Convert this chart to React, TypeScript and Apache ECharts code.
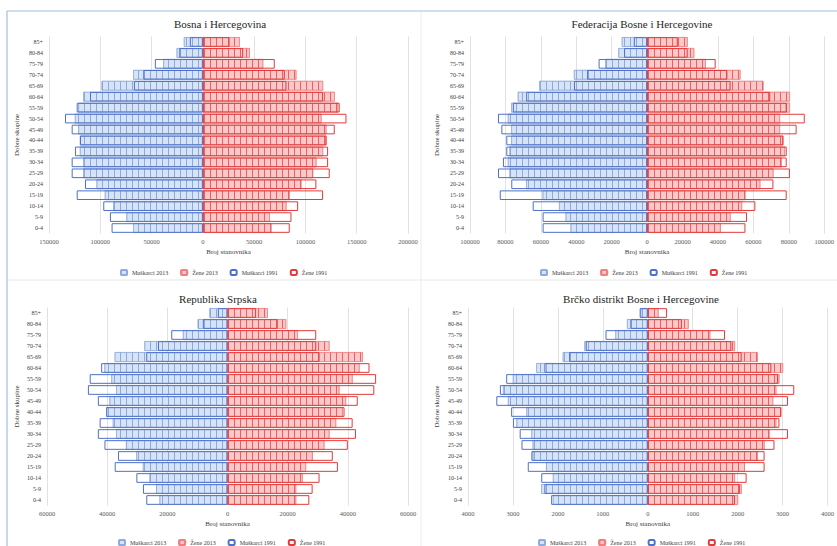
import React, { useEffect, useRef } from 'react';
import * as echarts from 'echarts';

const ageGroups = ['0-4', '5-9', '10-14', '15-19', '20-24', '25-29', '30-34', '35-39', '40-44', '45-49', '50-54', '55-59', '60-64', '65-69', '70-74', '75-79', '80-84', '85+'];
const seriesNames = ['Muškarci 2013', 'Žene 2013', 'Muškarci 1991', 'Žene 1991'];
const panelTitles = ['Bosna i Hercegovina', 'Federacija Bosne i Hercegovine', 'Republika Srpska', 'Brčko distrikt Bosne i Hercegovine'];
const xAxisName = 'Broj stanovnika';
const yAxisName = 'Dobne skupine';

// Bosna i Hercegovina
const bihMale2013 = [67900, 74400, 87300, 95500, 103600, 116600, 116600, 119800, 119800, 121400, 124700, 121400, 116600, 98700, 67900, 38600, 25600, 18500];
const bihFemale2013 = [66900, 65300, 81500, 84700, 96100, 107500, 110700, 117200, 120500, 120500, 115600, 131800, 128600, 117200, 91200, 58800, 45800, 36000];
const bihMale1991 = [89000, 90600, 97100, 123000, 114900, 127900, 127900, 124700, 119800, 127900, 134400, 123000, 110000, 67200, 58100, 46800, 23000, 12700];
const bihFemale1991 = [84700, 86400, 92900, 117200, 110700, 123700, 122100, 122100, 120500, 128600, 140000, 133400, 117200, 81500, 79900, 70100, 39300, 26000];

// Federacija BiH
const fbihMale2013 = [43200, 46000, 49700, 59000, 68300, 77700, 78600, 77700, 76700, 76700, 78600, 76700, 73000, 60900, 41300, 23600, 16200, 14300];
const fbihFemale2013 = [41500, 47100, 53600, 55500, 63900, 71300, 76000, 77800, 76900, 75000, 75000, 80600, 80600, 65700, 52700, 33100, 26600, 22900];
const fbihMale1991 = [59000, 59000, 64600, 83200, 76700, 84200, 81400, 79500, 79500, 82300, 84200, 75800, 68300, 41300, 33900, 27400, 13000, 7500];
const fbihFemale1991 = [55500, 56400, 61100, 78800, 71300, 80600, 78800, 78800, 76900, 84400, 89000, 78800, 69500, 47100, 45300, 38700, 22900, 17300];

// Republika Srpska
const rsMale2013 = [22600, 23700, 25900, 28100, 30300, 33700, 37000, 38100, 40300, 39200, 37000, 38600, 40900, 37500, 27600, 14800, 9900, 6000];
const rsFemale2013 = [22800, 22800, 25000, 26100, 28300, 32200, 33900, 36100, 38300, 39400, 37200, 41600, 43900, 45000, 33900, 23400, 19500, 13400];
const rsMale1991 = [27000, 28100, 30300, 37500, 36400, 40900, 43100, 42500, 40300, 43100, 46400, 45800, 42000, 27000, 23100, 18700, 8200, 3200];
const rsFemale1991 = [27200, 28300, 30600, 36700, 35000, 40000, 42700, 41600, 38900, 43300, 48800, 49400, 47200, 30600, 29500, 29500, 16700, 9500];

// Brčko distrikt
const bdMale2013 = [2110, 2370, 2110, 2260, 2560, 2560, 2590, 2920, 2700, 3110, 3220, 3000, 2480, 1890, 1410, 720, 460, 160];
const bdFemale2013 = [2010, 2090, 1940, 2160, 2450, 2600, 2710, 2860, 2970, 2790, 2860, 2930, 3010, 2450, 1940, 1390, 910, 240];
const bdMale1991 = [2150, 2300, 2370, 2670, 2590, 2810, 2850, 3000, 3040, 3370, 3290, 3150, 2300, 1750, 1380, 940, 380, 180];
const bdFemale1991 = [1940, 2050, 2200, 2600, 2600, 2820, 3120, 2930, 2970, 3120, 3260, 2900, 2750, 2090, 1860, 1720, 760, 430];

const xMins = [-150000, -100000, -60000, -4000];
const xMaxs = [200000, 100000, 60000, 4000];
const xIntervals = [50000, 20000, 20000, 1000];

const panelData = [
  [bihMale2013, bihFemale2013, bihMale1991, bihFemale1991],
  [fbihMale2013, fbihFemale2013, fbihMale1991, fbihFemale1991],
  [rsMale2013, rsFemale2013, rsMale1991, rsFemale1991],
  [bdMale2013, bdFemale2013, bdMale1991, bdFemale1991],
];

const FONT = '"Liberation Serif", "Times New Roman", serif';

const layout = [
  { gl: 49, gw: 359, gt: 36.5, gh: 197, cx: 215, titleTop: 13, legTop: 264, legLeft: 115, nameGap: 29 },
  { gl: 470, gw: 358, gt: 36.5, gh: 197, cx: 637, titleTop: 13, legTop: 264, legLeft: 535, nameGap: 30 },
  { gl: 47, gw: 361, gt: 307.5, gh: 198, cx: 213, titleTop: 288, legTop: 534, legLeft: 113, nameGap: 27 },
  { gl: 468, gw: 362, gt: 307.5, gh: 198, cx: 636, titleTop: 288, legTop: 534, legLeft: 533, nameGap: 28 },
];

export default function App() {
  const ref = useRef<HTMLDivElement>(null);
  useEffect(() => {
    if (!ref.current) return;
    const chart = echarts.init(ref.current, undefined, { renderer: 'svg' });
    const blueDecal = { symbol: 'rect', symbolSize: 1, color: 'rgba(80,120,205,0.55)', dashArrayX: [1, 5], dashArrayY: [5, 0], rotation: 0 };
    const redDecal = { symbol: 'rect', symbolSize: 1, color: 'rgba(235,60,60,0.75)', dashArrayX: [1, 5], dashArrayY: [5, 0], rotation: 0 };

    const series: any[] = [];
    panelData.forEach((d, p) => {
      const styles = [
        { color: '#d6e4f7', borderColor: '#8eaade', borderWidth: 0.6, decal: blueDecal },
        { color: '#fbc9c9', borderColor: '#f07f7f', borderWidth: 0.6, decal: redDecal },
        { color: 'rgba(255,255,255,0)', borderColor: '#4d70c8', borderWidth: 1 },
        { color: 'rgba(255,255,255,0)', borderColor: '#e23a3a', borderWidth: 1 },
      ];
      d.forEach((arr, s) => {
        series.push({
          type: 'bar',
          name: seriesNames[s],
          xAxisIndex: p,
          yAxisIndex: p,
          data: s % 2 === 0 ? arr.map((v) => -v) : arr.slice(),
          barGap: '-100%',
          barCategoryGap: '12%',
          itemStyle: styles[s],
          emphasis: { disabled: true },
          z: s < 2 ? 2 : 3,
        });
      });
    });

    const option: any = {
      animation: false,
      backgroundColor: '#ffffff',
      title: panelTitles.map((t, p) => ({
        text: t,
        left: layout[p].cx,
        top: layout[p].titleTop,
        textAlign: 'center',
        textStyle: { fontFamily: FONT, fontSize: 11, fontWeight: 'normal', color: '#262626' },
      })),
      legend: layout.map((l) => ({
        data: seriesNames,
        left: l.legLeft,
        top: l.legTop,
        itemWidth: 6,
        itemHeight: 5,
        itemGap: 12,
        selectedMode: false,
        textStyle: { fontFamily: FONT, fontSize: 6, color: '#404040' },
      })),
      grid: layout.map((l) => ({ left: l.gl, top: l.gt, width: l.gw, height: l.gh, containLabel: false })),
      xAxis: layout.map((l, p) => ({
        type: 'value',
        gridIndex: p,
        min: xMins[p],
        max: xMaxs[p],
        interval: xIntervals[p],
        axisLine: { show: false },
        axisTick: { show: false },
        splitLine: { show: true, lineStyle: { color: '#d9d9d9', width: 0.8 } },
        axisLabel: {
          formatter: (v: number) => String(Math.abs(v)),
          fontFamily: FONT,
          fontSize: 6.5,
          color: '#595959',
          margin: 4,
        },
        name: xAxisName,
        nameLocation: 'middle',
        nameGap: 15,
        nameTextStyle: { fontFamily: FONT, fontSize: 7, color: '#404040' },
      })),
      yAxis: layout.map((l, p) => ({
        type: 'category',
        gridIndex: p,
        data: ageGroups,
        axisLine: { show: false, onZero: false },
        axisTick: { show: false },
        splitLine: { show: false },
        axisLabel: { fontFamily: FONT, fontSize: 6, color: '#404040', margin: 6, interval: 0 },
        name: yAxisName,
        nameLocation: 'middle',
        nameRotate: 90,
        nameGap: l.nameGap,
        nameTextStyle: { fontFamily: FONT, fontSize: 7, color: '#404040' },
      })),
      series,
      graphic: [
        { type: 'line', shape: { x1: 7, y1: 11, x2: 837, y2: 11 }, style: { stroke: '#9dc0e6', lineWidth: 1.2 } },
        { type: 'line', shape: { x1: 7, y1: 11, x2: 7, y2: 546 }, style: { stroke: '#9dc0e6', lineWidth: 1.2 } },
        { type: 'line', shape: { x1: 8, y1: 280, x2: 837, y2: 280 }, style: { stroke: '#e8e8e8', lineWidth: 1 } },
        { type: 'line', shape: { x1: 421, y1: 12, x2: 421, y2: 546 }, style: { stroke: '#ececec', lineWidth: 1 } },
      ],
    };
    chart.setOption(option);
    return () => chart.dispose();
  }, []);
  return (
    <div style={{ position: 'fixed', left: 0, top: 0, width: 837, height: 546, overflow: 'hidden', background: '#fff' }}>
      <div ref={ref} style={{ width: 837, height: 546 }} />
    </div>
  );
}
